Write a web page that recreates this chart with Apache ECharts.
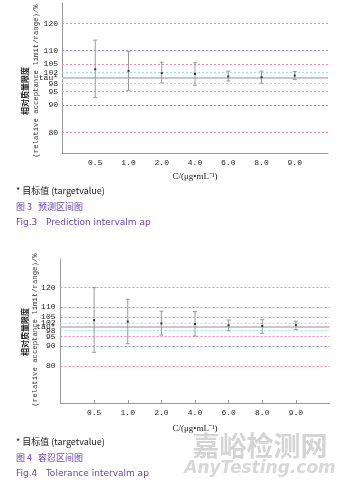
<!DOCTYPE html>
<html><head><meta charset="utf-8">
<script src="https://cdn.jsdelivr.net/npm/echarts@6/dist/echarts.min.js"></script>
<style>html,body{margin:0;padding:0;background:#fff}#c{width:342px;height:487px}</style>
</head><body><div id="c"></div>
<script>
const categories = ['0.5','1.0','2.0','4.0','6.0','8.0','9.0'];
const limitValues = [120,110,105,102,100,98,95,90,80];
const yTickLabels = ['120','110','105','102','tau*','98','95','90','80'];
const predMean = [103.2,102.6,101.8,101.5,100.6,100.3,100.9];
const predLow  = [92.8,95.4,98.2,97.4,98.9,98.1,99.5];
const predHigh = [113.9,109.8,105.8,105.6,102.5,102.5,102.4];
const tolMean  = [103.3,102.6,101.7,101.4,100.7,100.4,100.9];
const tolLow   = [86.9,91.3,95.7,95.2,97.9,96.6,98.5];
const tolHigh  = [120.0,114.0,107.9,107.7,103.4,103.6,102.8];

const lineColor = {120:'#f08cb4',80:'#f08cb4',105:'#f08cb4',95:'#f08cb4',110:'#9a9ae4',90:'#9a9ae4',102:'#98e8d8',98:'#98e8d8',100:'#c8c8c8'};
const tickFont = 'Liberation Mono';

function yAxisCfg(idx,min,max,margin){
  return {type:'value',gridIndex:idx,min:min,max:max,
    axisLine:{show:true,lineStyle:{color:'#999',width:1}},
    axisTick:{show:false},splitLine:{show:false},
    axisLabel:{customValues:limitValues,margin:margin,color:'#222',fontFamily:tickFont,fontSize:8,
      formatter:v=>yTickLabels[limitValues.indexOf(v)]}};
}
function xAxisCfg(idx,gap,ticks){
  const pos = categories.map((c,i)=>i+1);
  return {type:'value',gridIndex:idx,min:0,max:8,
    axisLine:{show:true,lineStyle:{color:'#999',width:1}},
    axisTick:{show:ticks,inside:true,length:3,customValues:pos,lineStyle:{color:'#999'}},
    splitLine:{show:false},
    axisLabel:{customValues:pos,color:'#222',fontFamily:tickFont,fontSize:8,margin:6,
      formatter:v=>categories[v-1]},
    name:'C/(μg•mL⁻¹)',nameLocation:'middle',nameGap:gap,
    nameTextStyle:{fontFamily:'Liberation Serif',fontSize:9,color:'#222'}};
}
function renderBar(params, api){
  const x=api.value(0), lo=api.value(1), hi=api.value(2), m=api.value(3);
  const a=api.coord([x,lo]), b=api.coord([x,hi]), c=api.coord([x,m]);
  const cap=2;
  const st={stroke:'#9a9a9a',lineWidth:1};
  return {type:'group',children:[
    {type:'line',shape:{x1:a[0],y1:a[1],x2:b[0],y2:b[1]},style:st},
    {type:'line',shape:{x1:a[0]-cap,y1:a[1],x2:a[0]+cap,y2:a[1]},style:st},
    {type:'line',shape:{x1:b[0]-cap,y1:b[1],x2:b[0]+cap,y2:b[1]},style:st},
    {type:'rect',shape:{x:c[0]-1,y:c[1]-1,width:2,height:2},style:{fill:'#333'}}
  ]};
}
function limitSeries(idx){
  return {type:'line',xAxisIndex:idx,yAxisIndex:idx,data:[],silent:true,
    markLine:{symbol:'none',silent:true,animation:false,label:{show:false},
      emphasis:{disabled:true},
      data:limitValues.map(v=>({yAxis:v,lineStyle:{color:lineColor[v],opacity:1,type:v===100?'solid':[2,2],width:v===100?1.8:1}}))}};
}
function barSeries(idx,lo,hi,mean){
  return {type:'custom',xAxisIndex:idx,yAxisIndex:idx,renderItem:renderBar,animation:false,
    data:categories.map((c,i)=>[i+1,lo[i],hi[i],mean[i]]),z:5};
}
function txt(x,y,text,opt){
  return {type:'text',x:x,y:y,style:Object.assign({text:text,fill:'#222',fontSize:9,fontFamily:'Noto Sans CJK SC'},opt||{})};
}
const purple='#6a45a8';
const option={
  animation:false,
  grid:[{left:62,top:3,width:266,height:150},{left:60.5,top:259,width:269,height:144}],
  xAxis:[xAxisCfg(0,19,false),xAxisCfg(1,21,true)],
  yAxis:[yAxisCfg(0,72.5,127.5,4),yAxisCfg(1,61,134.6,5)],
  series:[limitSeries(0),barSeries(0,predLow,predHigh,predMean),limitSeries(1),barSeries(1,tolLow,tolHigh,tolMean)],
  graphic:[
    {type:'text',x:25,y:91,rotation:Math.PI/2,style:{text:'相对质量限度',fontSize:8,fontWeight:'bold',fontFamily:'Noto Sans CJK SC',fill:'#222',textAlign:'center',textVerticalAlign:'middle'}},
    {type:'text',x:36,y:81,rotation:Math.PI/2,style:{text:'(relative acceptance limit/range)/%',fontSize:7.3,fontFamily:tickFont,fill:'#333',textAlign:'center',textVerticalAlign:'middle'}},
    {type:'text',x:25,y:332,rotation:Math.PI/2,style:{text:'相对质量限度',fontSize:8,fontWeight:'bold',fontFamily:'Noto Sans CJK SC',fill:'#222',textAlign:'center',textVerticalAlign:'middle'}},
    {type:'text',x:35,y:330,rotation:Math.PI/2,style:{text:'(relative acceptance limit/range)/%',fontSize:7.3,fontFamily:tickFont,fill:'#333',textAlign:'center',textVerticalAlign:'middle'}},
    txt(16,186,'* 目标值 (targetvalue)'),
    txt(16,202,'图 3   预测区间图',{fill:purple}),
    txt(16,218,'Fig.3   Prediction intervalm ap',{fill:purple,fontFamily:'DejaVu Sans'}),
    {type:'text',x:260,y:446,style:{text:'嘉峪检测网',fontSize:27,fontWeight:'bold',fontFamily:'Noto Sans CJK SC',fill:'#d4d4d4',textAlign:'center',textVerticalAlign:'middle'}},
    {type:'text',x:260,y:469,style:{text:'AnyTesting.com',fontSize:17,fontStyle:'italic',fontWeight:'bold',fontFamily:'DejaVu Sans',fill:'#d8d8d8',textAlign:'center',textVerticalAlign:'middle'}},
    txt(16,437,'* 目标值 (targetvalue)'),
    txt(16,453,'图 4   容忍区间图',{fill:purple}),
    txt(16,469,'Fig.4   Tolerance intervalm ap',{fill:purple,fontFamily:'DejaVu Sans'})
  ]
};
echarts.init(document.getElementById('c')).setOption(option);
</script></body></html>
